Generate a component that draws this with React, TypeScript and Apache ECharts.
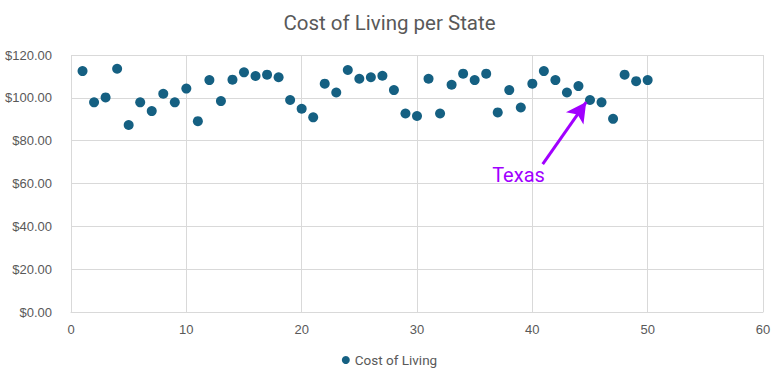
import React, { useEffect, useRef } from "react";
import * as echarts from "echarts";

const stateIndex = Array.from({ length: 50 }, (_, i) => i + 1);
const costOfLiving = [
  112.5, 97.9, 100.2, 113.6, 87.3, 97.9, 93.8, 101.9, 97.9, 104.3,
  89.1, 108.3, 98.5, 108.5, 111.9, 110.2, 110.8, 109.6, 99.0, 94.9,
  90.9, 106.6, 102.5, 113.0, 108.9, 109.6, 110.3, 103.6, 92.7, 91.5,
  108.9, 92.7, 106.1, 111.3, 108.3, 111.3, 93.2, 103.6, 95.5, 106.6,
  112.5, 108.3, 102.5, 105.5, 99.0, 97.9, 90.2, 110.8, 107.8, 108.3,
];
const annotationText = "Texas";
const arrowFrom = [40.9, 69.0];
const arrowTo = [44.67, 98.0];
const labelAt = [38.8, 64.2];

export default function App() {
  const ref = useRef<HTMLDivElement>(null);
  useEffect(() => {
    if (!ref.current) return;
    const chart = echarts.init(ref.current, null, { renderer: "svg" });
    const purple = "#a100ff";
    chart.setOption({
      animation: false,
      title: {
        text: "Cost of Living per State",
        left: "center",
        top: 7,
        textStyle: { color: "#595959", fontSize: 20.5, fontWeight: "normal", fontFamily: "Roboto" },
      },
      legend: {
        bottom: 8,
        left: "center",
        icon: "circle",
        itemWidth: 8,
        itemHeight: 8,
        itemGap: 4,
        textStyle: { color: "#595959", fontSize: 13.5, fontFamily: "Roboto" },
        data: ["Cost of Living"],
      },
      grid: { left: 71, right: 16, top: 55, bottom: 68 },
      xAxis: {
        type: "value",
        min: 0,
        max: 60,
        interval: 10,
        axisLine: { show: true, lineStyle: { color: "#d9d9d9" } },
        axisTick: { show: false },
        axisLabel: { color: "#595959", fontSize: 13, fontFamily: "Liberation Sans", margin: 11 },
        splitLine: { show: true, lineStyle: { color: "#d9d9d9", width: 1 } },
      },
      yAxis: {
        type: "value",
        min: 0,
        max: 120,
        interval: 20,
        axisLine: { show: false },
        axisTick: { show: false },
        axisLabel: {
          color: "#595959",
          fontSize: 13,
          fontFamily: "Liberation Sans",
          margin: 19,
          formatter: (v: number) => "$" + v.toFixed(2),
        },
        splitLine: { show: true, lineStyle: { color: "#d9d9d9", width: 1 } },
      },
      series: [
        {
          name: "Cost of Living",
          type: "scatter",
          symbolSize: 10,
          itemStyle: { color: "#156082", opacity: 1 },
          data: stateIndex.map((x, i) => [x, costOfLiving[i]]),
          markLine: {
            silent: true,
            symbol: ["none", "arrow"],
            symbolSize: [16, 20],
            label: { show: false },
            lineStyle: { color: purple, width: 3, type: "solid", opacity: 1 },
            data: [[{ coord: arrowFrom }, { coord: arrowTo }]],
          },
          markPoint: {
            silent: true,
            symbol: "circle",
            symbolSize: 0,
            label: {
              show: true,
              formatter: annotationText,
              color: purple,
              fontSize: 20,
              fontFamily: "Roboto",
            },
            data: [{ coord: labelAt, value: annotationText }],
          },
        },
      ],
    });
    return () => chart.dispose();
  }, []);
  return (
    <div
      ref={ref}
      style={{ position: "fixed", left: 0, top: 0, width: 779, height: 380, background: "#fff" }}
    />
  );
}
